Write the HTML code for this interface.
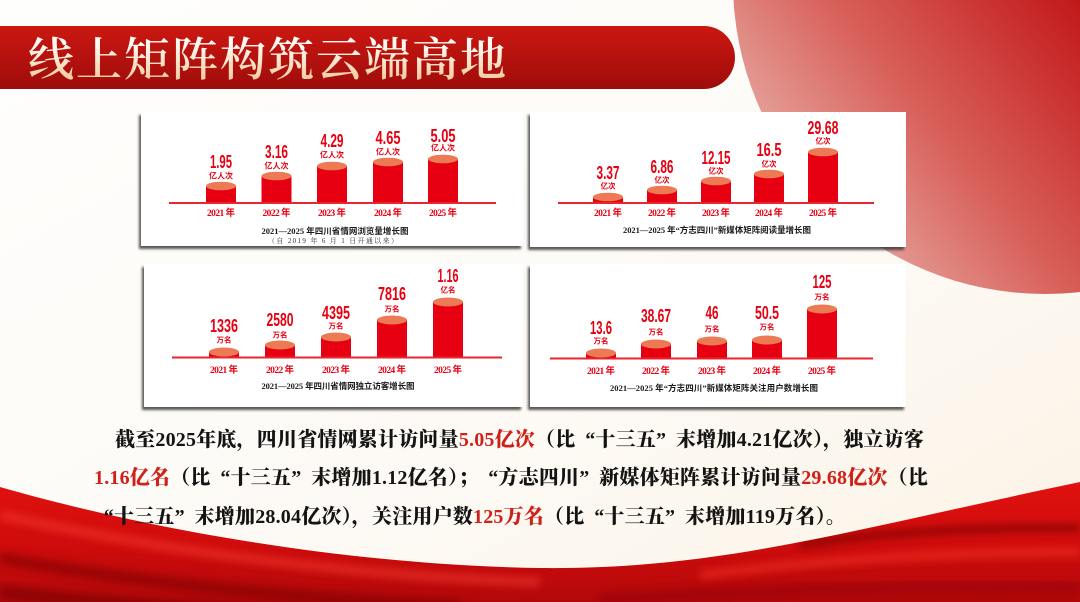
<!DOCTYPE html>
<html><head><meta charset="utf-8">
<style>
html,body{margin:0;padding:0;}
body{width:1080px;height:602px;overflow:hidden;position:relative;background:#fdfbf8;}
svg{position:absolute;left:0;top:0;}
.t{position:absolute;white-space:nowrap;font-family:"Liberation Serif","Noto Serif CJK SC",serif;font-weight:900;font-size:20px;line-height:24px;color:#141414;letter-spacing:0.2px;}
.r{color:#cf2119;}
.ql{display:inline-block;width:1em;text-align:right;}
.qr{display:inline-block;width:1em;text-align:left;}
</style></head>
<body>
<svg width="1080" height="602" viewBox="0 0 1080 602" xmlns="http://www.w3.org/2000/svg">
<defs>
<linearGradient id="bg" x1="0" y1="0" x2="1" y2="1">
<stop offset="0" stop-color="#fefefd"/><stop offset="0.6" stop-color="#fdfaf5"/><stop offset="1" stop-color="#fbf2e4"/>
</linearGradient>
<linearGradient id="circ" gradientUnits="userSpaceOnUse" x1="1080" y1="0" x2="760" y2="260">
<stop offset="0" stop-color="#c2181a"/><stop offset="0.47" stop-color="#d8605a"/><stop offset="0.83" stop-color="#e6a7a0"/><stop offset="1" stop-color="#edbcb4"/>
</linearGradient>
<linearGradient id="bar" x1="0" y1="0" x2="0" y2="1">
<stop offset="0" stop-color="#cc1711"/><stop offset="1" stop-color="#9e0d0b"/>
</linearGradient>
<linearGradient id="ttl" x1="0" y1="0" x2="0" y2="1">
<stop offset="0.2" stop-color="#fffaf3"/><stop offset="1" stop-color="#f1c493"/>
</linearGradient>
<linearGradient id="rib" x1="0" y1="0" x2="0" y2="1">
<stop offset="0" stop-color="#e0120f"/><stop offset="0.5" stop-color="#d00c0c"/><stop offset="1" stop-color="#b2080a"/>
</linearGradient>
<filter id="sh" x="-5%" y="-5%" width="110%" height="115%">
<feDropShadow dx="-2" dy="3" stdDeviation="1.2" flood-color="#3a3a3a" flood-opacity="0.85"/>
</filter>
<filter id="bl" x="-10%" y="-50%" width="120%" height="200%"><feGaussianBlur stdDeviation="4"/></filter>
<clipPath id="ribclip"><path d="M0,487 C150,530 350,565 540,568 C720,570 850,530 1080,482 L1080,602 L0,602 Z"/></clipPath>
</defs>
<rect width="1080" height="602" fill="url(#bg)"/>
<circle cx="1045" cy="-18" r="312" fill="url(#circ)"/>

<!-- title bar -->
<path d="M0,26 L704,26 A31,31.5 0 0 1 704,89 L0,89 Z" fill="url(#bar)"/>
<text x="28" y="60" dominant-baseline="central" font-family="'Liberation Serif','Noto Serif CJK SC',serif" font-weight="600" font-size="46" textLength="478" lengthAdjust="spacing" fill="url(#ttl)">线上矩阵构筑云端高地</text>

<!-- ribbon -->
<path d="M0,487 C150,530 350,565 540,568 C720,570 850,530 1080,482 L1080,602 L0,602 Z" fill="url(#rib)"/>
<g clip-path="url(#ribclip)">
<path d="M0,515 C150,548 330,575 540,582" stroke="#f43a30" stroke-width="10" fill="none" opacity="0.55" filter="url(#bl)"/>
<path d="M0,558 C150,585 300,598 460,606" stroke="#7a0406" stroke-width="12" fill="none" opacity="0.55" filter="url(#bl)"/>
<path d="M0,592 C120,606 240,612 340,614" stroke="#6a0305" stroke-width="14" fill="none" opacity="0.5" filter="url(#bl)"/>
<path d="M800,545 C880,532 980,527 1080,528" stroke="#6e0406" stroke-width="8" fill="none" opacity="0.6" filter="url(#bl)"/>
<path d="M700,575 C820,560 950,552 1080,552" stroke="#ff3a2c" stroke-width="10" fill="none" opacity="0.45" filter="url(#bl)"/>
<path d="M600,600 C760,590 920,585 1080,588" stroke="#8a0508" stroke-width="12" fill="none" opacity="0.45" filter="url(#bl)"/>
</g>

<!-- panels -->
<g filter="url(#sh)">
<rect x="141" y="112" width="382" height="134" fill="#ffffff"/>
<rect x="530" y="112" width="376" height="135" fill="#ffffff"/>
<rect x="144" y="264" width="379" height="143" fill="#ffffff"/>
<rect x="530" y="264" width="376" height="143" fill="#ffffff"/>
</g>

<g font-family="'Liberation Sans','Noto Sans CJK SC',sans-serif">
<!-- Panel 1 -->
<g fill="#e60012">
<rect x="206" y="186" width="30" height="17"/><rect x="261.5" y="176" width="30" height="27"/><rect x="317" y="166" width="30" height="37"/><rect x="373" y="162" width="30" height="41"/><rect x="428" y="159" width="30" height="44"/>
</g>
<g fill="#ec7b55">
<ellipse cx="221" cy="186" rx="15" ry="4.3"/><ellipse cx="276.5" cy="176" rx="15" ry="4.3"/><ellipse cx="332" cy="166" rx="15" ry="4.3"/><ellipse cx="388" cy="162" rx="15" ry="4.3"/><ellipse cx="443" cy="159" rx="15" ry="4.3"/>
</g>
<line x1="169" y1="203" x2="496" y2="203" stroke="#e8262e" stroke-width="2"/>
<g fill="#e60012" font-weight="700" font-size="18" text-anchor="middle" dominant-baseline="central">
<text x="221" y="162" textLength="22" lengthAdjust="spacingAndGlyphs">1.95</text>
<text x="276.5" y="152" textLength="23" lengthAdjust="spacingAndGlyphs">3.16</text>
<text x="332" y="141" textLength="23" lengthAdjust="spacingAndGlyphs">4.29</text>
<text x="388" y="138" textLength="25" lengthAdjust="spacingAndGlyphs">4.65</text>
<text x="443" y="136" textLength="25" lengthAdjust="spacingAndGlyphs">5.05</text>
</g>
<g fill="#e60012" font-weight="700" font-size="8" text-anchor="middle" dominant-baseline="central">
<text x="221" y="176">亿人次</text><text x="276.5" y="166">亿人次</text><text x="332" y="155">亿人次</text><text x="388" y="152">亿人次</text><text x="443" y="148">亿人次</text>
</g>
<g fill="#e60012" font-family="'Liberation Serif','Noto Sans CJK SC',serif" font-weight="700" font-size="9.5" text-anchor="middle" dominant-baseline="central">
<text x="221" y="214" textLength="28">2021 年</text><text x="276.5" y="214" textLength="28">2022 年</text><text x="332" y="214" textLength="28">2023 年</text><text x="388" y="214" textLength="28">2024 年</text><text x="443" y="214" textLength="28">2025 年</text>
</g>
<text x="335" y="231" fill="#1a1a1a" font-family="'Liberation Serif','Noto Sans CJK SC',serif" font-weight="700" font-size="8.5" text-anchor="middle" dominant-baseline="central" textLength="147">2021—2025 年四川省情网浏览量增长图</text>
<text x="333" y="241" fill="#333" font-family="'Liberation Serif','Noto Serif CJK SC',serif" font-size="7" text-anchor="middle" dominant-baseline="central" textLength="130">（自 2019 年 6 月 1 日开通以来）</text>

<!-- Panel 2 -->
<g fill="#e60012">
<rect x="593" y="197" width="30" height="6"/><rect x="647" y="190" width="30" height="13"/><rect x="701" y="181" width="30" height="22"/><rect x="754" y="174" width="30" height="29"/><rect x="808" y="152" width="30" height="51"/>
</g>
<g fill="#ec7b55">
<ellipse cx="608" cy="197" rx="15" ry="4.3"/><ellipse cx="662" cy="190" rx="15" ry="4.3"/><ellipse cx="716" cy="181" rx="15" ry="4.3"/><ellipse cx="769" cy="174" rx="15" ry="4.3"/><ellipse cx="823" cy="152" rx="15" ry="4.3"/>
</g>
<line x1="558" y1="203" x2="874" y2="203" stroke="#e8262e" stroke-width="2"/>
<g fill="#e60012" font-weight="700" font-size="18" text-anchor="middle" dominant-baseline="central">
<text x="608" y="173" textLength="23" lengthAdjust="spacingAndGlyphs">3.37</text>
<text x="662" y="167" textLength="23" lengthAdjust="spacingAndGlyphs">6.86</text>
<text x="716" y="158" textLength="29" lengthAdjust="spacingAndGlyphs">12.15</text>
<text x="769" y="150" textLength="25" lengthAdjust="spacingAndGlyphs">16.5</text>
<text x="823" y="128" textLength="31" lengthAdjust="spacingAndGlyphs">29.68</text>
</g>
<g fill="#e60012" font-weight="700" font-size="7.5" text-anchor="middle" dominant-baseline="central">
<text x="608" y="186">亿次</text><text x="662" y="180">亿次</text><text x="716" y="171">亿次</text><text x="769" y="164">亿次</text><text x="823" y="141">亿次</text>
</g>
<g fill="#e60012" font-family="'Liberation Serif','Noto Sans CJK SC',serif" font-weight="700" font-size="9.5" text-anchor="middle" dominant-baseline="central">
<text x="608" y="214" textLength="28">2021 年</text><text x="662" y="214" textLength="28">2022 年</text><text x="716" y="214" textLength="28">2023 年</text><text x="769" y="214" textLength="28">2024 年</text><text x="823" y="214" textLength="28">2025 年</text>
</g>
<text x="717" y="230" fill="#1a1a1a" font-family="'Liberation Serif','Noto Sans CJK SC',serif" font-weight="700" font-size="8.5" text-anchor="middle" dominant-baseline="central" textLength="188">2021—2025 年“方志四川”新媒体矩阵阅读量增长图</text>

<!-- Panel 3 -->
<g fill="#e60012">
<rect x="209" y="352" width="30" height="5"/><rect x="265" y="345" width="30" height="12"/><rect x="321" y="337" width="30" height="20"/><rect x="377" y="320" width="30" height="37"/><rect x="433" y="302" width="30" height="55"/>
</g>
<g fill="#ec7b55">
<ellipse cx="224" cy="352" rx="15" ry="4.5"/><ellipse cx="280" cy="345" rx="15" ry="4.5"/><ellipse cx="336" cy="337" rx="15" ry="4.5"/><ellipse cx="392" cy="320" rx="15" ry="4.5"/><ellipse cx="448" cy="302" rx="15" ry="4.5"/>
</g>
<line x1="172" y1="357.5" x2="502" y2="357.5" stroke="#e8262e" stroke-width="2"/>
<g fill="#e60012" font-weight="700" font-size="18" text-anchor="middle" dominant-baseline="central">
<text x="224" y="326" textLength="28" lengthAdjust="spacingAndGlyphs">1336</text>
<text x="280" y="320" textLength="27" lengthAdjust="spacingAndGlyphs">2580</text>
<text x="336" y="313" textLength="28" lengthAdjust="spacingAndGlyphs">4395</text>
<text x="392" y="294" textLength="28" lengthAdjust="spacingAndGlyphs">7816</text>
<text x="448" y="276" textLength="21" lengthAdjust="spacingAndGlyphs">1.16</text>
</g>
<g fill="#e60012" font-weight="700" font-size="7.5" text-anchor="middle" dominant-baseline="central">
<text x="224" y="340">万名</text><text x="280" y="335">万名</text><text x="336" y="326">万名</text><text x="392" y="309">万名</text><text x="448" y="290">亿名</text>
</g>
<g fill="#e60012" font-family="'Liberation Serif','Noto Sans CJK SC',serif" font-weight="700" font-size="9.5" text-anchor="middle" dominant-baseline="central">
<text x="224" y="371" textLength="28">2021 年</text><text x="280" y="371" textLength="28">2022 年</text><text x="336" y="371" textLength="28">2023 年</text><text x="392" y="371" textLength="28">2024 年</text><text x="448" y="371" textLength="28">2025 年</text>
</g>
<text x="338" y="386" fill="#1a1a1a" font-family="'Liberation Serif','Noto Sans CJK SC',serif" font-weight="700" font-size="8.5" text-anchor="middle" dominant-baseline="central" textLength="153">2021—2025 年四川省情网独立访客增长图</text>

<!-- Panel 4 -->
<g fill="#e60012">
<rect x="586" y="353" width="30" height="5"/><rect x="641" y="344" width="30" height="14"/><rect x="697" y="341" width="30" height="17"/><rect x="752" y="340" width="30" height="18"/><rect x="807" y="309" width="30" height="49"/>
</g>
<g fill="#ec7b55">
<ellipse cx="601" cy="353" rx="15" ry="4.5"/><ellipse cx="656" cy="344" rx="15" ry="4.5"/><ellipse cx="712" cy="341" rx="15" ry="4.5"/><ellipse cx="767" cy="340" rx="15" ry="4.5"/><ellipse cx="822" cy="309" rx="15" ry="4.5"/>
</g>
<line x1="550" y1="358.5" x2="873" y2="358.5" stroke="#e8262e" stroke-width="2"/>
<g fill="#e60012" font-weight="700" font-size="18" text-anchor="middle" dominant-baseline="central">
<text x="601" y="328" textLength="22" lengthAdjust="spacingAndGlyphs">13.6</text>
<text x="656" y="316" textLength="30" lengthAdjust="spacingAndGlyphs">38.67</text>
<text x="712" y="313" textLength="13" lengthAdjust="spacingAndGlyphs">46</text>
<text x="767" y="313" textLength="24" lengthAdjust="spacingAndGlyphs">50.5</text>
<text x="822" y="282" textLength="19" lengthAdjust="spacingAndGlyphs">125</text>
</g>
<g fill="#e60012" font-weight="700" font-size="7.5" text-anchor="middle" dominant-baseline="central">
<text x="601" y="341">万名</text><text x="656" y="332">万名</text><text x="712" y="329">万名</text><text x="767" y="327">万名</text><text x="822" y="297">万名</text>
</g>
<g fill="#e60012" font-family="'Liberation Serif','Noto Sans CJK SC',serif" font-weight="700" font-size="9.5" text-anchor="middle" dominant-baseline="central">
<text x="601" y="372" textLength="28">2021 年</text><text x="656" y="372" textLength="28">2022 年</text><text x="712" y="372" textLength="28">2023 年</text><text x="767" y="372" textLength="28">2024 年</text><text x="822" y="372" textLength="28">2025 年</text>
</g>
<text x="714" y="388" fill="#1a1a1a" font-family="'Liberation Serif','Noto Sans CJK SC',serif" font-weight="700" font-size="8.5" text-anchor="middle" dominant-baseline="central" textLength="208">2021—2025 年“方志四川”新媒体矩阵关注用户数增长图</text>
</g>
</svg>

<div class="t" style="left:115px;top:428px;">截至2025年底，四川省情网累计访问量<span class="r">5.05亿次</span>（比<span class="ql">“</span>十三五<span class="qr">”</span>末增加4.21亿次），独立访客</div>
<div class="t" style="left:94px;top:466px;"><span class="r">1.16亿名</span>（比<span class="ql">“</span>十三五<span class="qr">”</span>末增加1.12亿名）；<span class="ql">“</span>方志四川<span class="qr">”</span>新媒体矩阵累计访问量<span class="r">29.68亿次</span>（比</div>
<div class="t" style="left:94px;top:505px;"><span class="ql">“</span>十三五<span class="qr">”</span>末增加28.04亿次），关注用户数<span class="r">125万名</span>（比<span class="ql">“</span>十三五<span class="qr">”</span>末增加119万名）。</div>
</body></html>
